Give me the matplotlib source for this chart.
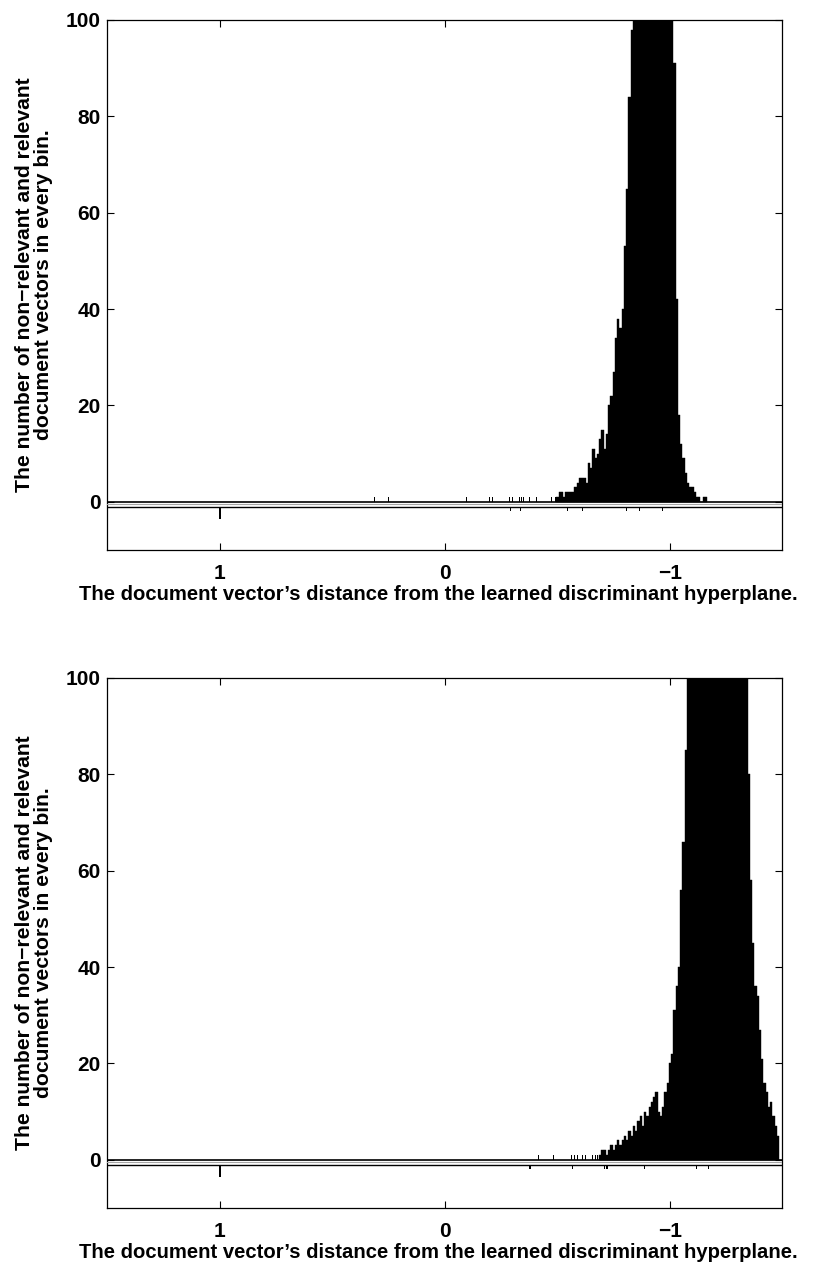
import numpy as np
import matplotlib
matplotlib.use('Agg')
import matplotlib.pyplot as plt

plt.rcParams['font.family'] = ['Liberation Sans', 'DejaVu Sans']
plt.rcParams['font.weight'] = 'bold'

bin_w = 0.01

# top panel: isolated non-relevant docs (count 1 each)
p1_sparse_x = [0.312, 0.253, 0.031, -0.095, -0.151, -0.169, -0.196, -0.213, -0.240,
               -0.258, -0.288, -0.302, -0.320, -0.330, -0.340, -0.350, -0.376, -0.391,
               -0.405, -0.418, -0.440, -0.458, -0.473, -0.490]
p1_sparse_n = [1] * len(p1_sparse_x)
# top panel: dense part, bins centred at -0.50 ... -1.16
p1_first_bin = -0.50
p1_counts = [1, 2, 2, 1, 2, 2, 2, 2, 3, 4,
             5, 5, 5, 4, 8, 7, 11, 9, 10, 13,
             15, 11, 14, 20, 22, 27, 34, 38, 36, 40,
             53, 65, 84, 98, 108, 118, 131, 147, 160, 172,
             185, 193, 198, 196, 190, 181, 167, 150, 134, 120,
             110, 103, 91, 42, 18, 12, 9, 6, 4, 3,
             3, 2, 1, 1, 0, 1, 1]
# top panel: relevant docs (drawn below the axis line)
p1_rel_x = [1.0, -0.291, -0.335, -0.544, -0.613, -0.806, -0.865, -0.966]
p1_rel_n = [3, 1, 1, 1, 1, 1, 1, 1]

# bottom panel
p2_sparse_x = [-0.416, -0.483, -0.562, -0.575, -0.590, -0.600, -0.612, -0.625,
               -0.640, -0.655, -0.668, -0.678]
p2_sparse_n = [1] * len(p2_sparse_x)
p2_first_bin = -0.69
p2_counts = [1, 2, 2, 1, 2, 3, 2, 3, 4, 3,
             4, 5, 4, 6, 5, 7, 6, 8, 9, 7,
             10, 9, 11, 12, 13, 14, 10, 9, 11, 14,
             16, 20, 22, 31, 36, 40, 56, 66, 85, 102,
             106, 112, 121, 130, 140, 150, 158, 166, 172, 178,
             182, 184, 185, 183, 180, 176, 170, 163, 155, 146,
             137, 128, 119, 111, 105, 103, 80, 58, 45, 36,
             34, 27, 21, 16, 14, 11, 12, 9, 7, 5]
p2_rel_x = [1.0, -0.378, -0.566, -0.709, -0.720, -0.887, -1.118, -1.170]
p2_rel_n = [3, 1, 1, 1, 1, 1, 1, 1]

xticks = [1, 0, -1]
xticklabels = ['1', '0', '\u22121']
yticks = [0, 20, 40, 60, 80, 100]

ylab = 'The number of non\u2212relevant and relevant\ndocument vectors in every bin.'
xlab = 'The document vector\u2019s distance from the learned discriminant hyperplane.'

fig = plt.figure(figsize=(8.15, 12.65), dpi=100)
ax1 = fig.add_axes([0.1319, 0.5652, 0.8282, 0.4190])
ax2 = fig.add_axes([0.1319, 0.0451, 0.8282, 0.4190])

panels = [
    (ax1, p1_sparse_x, p1_sparse_n, p1_first_bin, p1_counts, p1_rel_x, p1_rel_n),
    (ax2, p2_sparse_x, p2_sparse_n, p2_first_bin, p2_counts, p2_rel_x, p2_rel_n),
]

for ax, sx, sn, first, counts, rx, rn in panels:
    centers = first - bin_w * np.arange(len(counts))
    ax.bar(centers, counts, width=bin_w, color='black', edgecolor='black', linewidth=0.3)
    ax.bar(sx, sn, width=0.004, color='black', linewidth=0)
    ax.axhline(0, color='black', lw=1.2, zorder=3)
    ax.axhline(-0.55, color='0.65', lw=0.8, zorder=3)
    ax.axhline(-1.1, color='black', lw=1.0, zorder=3)
    ax.bar(rx, -0.85 * np.array(rn), bottom=-1.1, width=0.005, color='black', linewidth=0)

    ax.set_xlim(1.5, -1.5)
    ax.set_ylim(-10, 100)
    ax.set_xticks(xticks)
    ax.set_xticklabels(xticklabels)
    ax.set_yticks(yticks)
    ax.tick_params(direction='in', length=5, width=0.8, top=True, right=True,
                   labelsize=15)
    ax.tick_params(axis='x', pad=10)
    ax.tick_params(axis='y', pad=5)
    for s in ax.spines.values():
        s.set_linewidth(0.9)
    ax.set_xlabel(xlab, fontsize=14.6, fontweight='bold')
    ax.xaxis.set_label_coords(0.490, -0.066)
    ax.set_ylabel(ylab, fontsize=15.2, fontweight='bold', linespacing=1.0)
    ax.yaxis.set_label_coords(-0.080, 0.5)

fig.savefig('out.png', dpi=100)
